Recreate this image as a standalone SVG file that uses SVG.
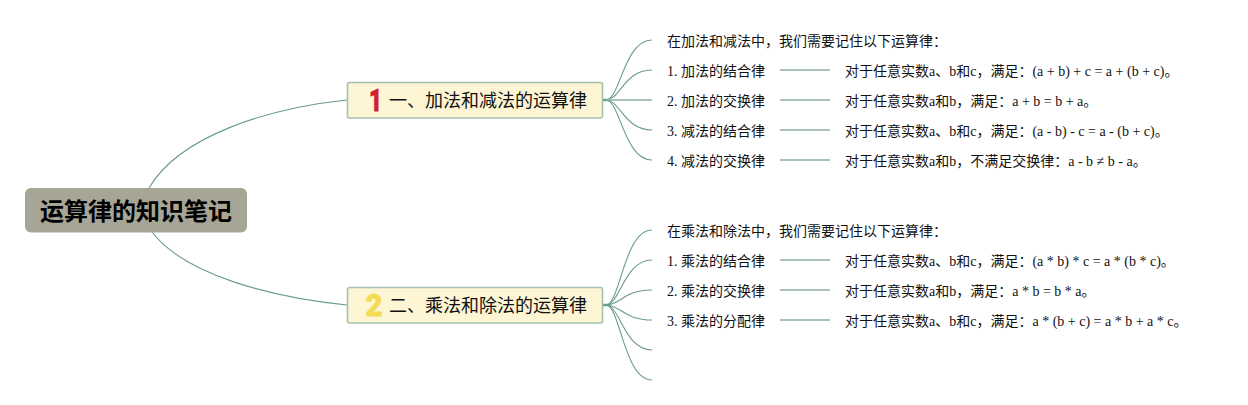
<svg xmlns="http://www.w3.org/2000/svg" width="1248" height="405" viewBox="0 0 1248 405">
<style>
text{font-family:"Liberation Serif","Noto Sans CJK SC",serif;fill:#111;white-space:pre}
.leaf{font-size:14px}
.branch{font-size:18px}
.root{font-size:24px;font-weight:700;font-family:"Noto Sans CJK SC",sans-serif;fill:#000}
.box{fill:#fdf5d3;stroke:#a3c2b0;stroke-width:1.6}
.c{fill:none;stroke:#6a9c8b;stroke-width:1.1}
.l{fill:none;stroke:#a8c4b8;stroke-width:2}
.hub{fill:none;stroke:#6a9c8b;stroke-width:2.5}
.ic{font-family:Roboto,sans-serif;font-weight:900;font-size:32px;stroke-width:.8;stroke-linejoin:round}
</style>
<rect width="1248" height="405" fill="#fff"/>
<g id="connectors">
<path class="c" d="M149 188C180 135 270 108 347 100"/>
<path class="c" d="M152 232C185 275 270 297 347 305"/>
<path class="hub" d="M602 100H610"/>
<path class="hub" d="M602 305H610"/>
<path class="c" d="M606 100C620 100 624 40 652 40"/>
<path class="c" d="M606 100C620 100 624 70 652 70"/>
<path class="l" d="M606 100H652"/>
<path class="c" d="M606 100C620 100 624 130 652 130"/>
<path class="c" d="M606 100C620 100 624 160 652 160"/>
<path class="c" d="M606 305C620 305 624 230 652 230"/>
<path class="c" d="M606 305C620 305 624 260 652 260"/>
<path class="c" d="M606 305C620 305 624 290 652 290"/>
<path class="c" d="M606 305C620 305 624 320 652 320"/>
<path class="c" d="M606 305C620 305 624 350 652 350"/>
<path class="c" d="M606 305C620 305 624 380 652 380"/>
<path class="l" d="M780 70H830M780 100H830M780 130H830M780 160H830M780 260H830M780 290H830M780 320H830"/>
</g>
<g id="root"><rect x="25" y="188" width="222" height="44.5" rx="6" fill="#a6a596"/><text class="root" x="40" y="220">运算律的知识笔记</text></g>
<g id="branch1"><rect class="box" x="347.5" y="82.5" width="255" height="35.5" rx="2"/><text class="ic" x="369" y="111" textLength="13" lengthAdjust="spacingAndGlyphs" stroke="#d2202f" style="fill:#d2202f">1</text><text class="branch" x="389" y="107">一、加法和减法的运算律</text></g>
<g id="branch2"><rect class="box" x="347.5" y="287.5" width="255" height="35.5" rx="2"/><text class="ic" x="365.5" y="316" textLength="17" lengthAdjust="spacingAndGlyphs" stroke="#f3dd57" style="fill:#f3dd57">2</text><text class="branch" x="389" y="312">二、乘法和除法的运算律</text></g>
<g id="leaves">
<text class="leaf" x="667" y="46">在加法和减法中，我们需要记住以下运算律：</text>
<text class="leaf" x="667" y="76">1. 加法的结合律</text>
<text class="leaf" x="667" y="106">2. 加法的交换律</text>
<text class="leaf" x="667" y="136">3. 减法的结合律</text>
<text class="leaf" x="667" y="166">4. 减法的交换律</text>
<text class="leaf" x="845" y="76">对于任意实数a、b和c，满足：(a + b) + c = a + (b + c)。</text>
<text class="leaf" x="845" y="106">对于任意实数a和b，满足：a + b = b + a。</text>
<text class="leaf" x="845" y="136">对于任意实数a、b和c，满足：(a - b) - c = a - (b + c)。</text>
<text class="leaf" x="845" y="166">对于任意实数a和b，不满足交换律：a - b ≠ b - a。</text>
<text class="leaf" x="667" y="236">在乘法和除法中，我们需要记住以下运算律：</text>
<text class="leaf" x="667" y="266">1. 乘法的结合律</text>
<text class="leaf" x="667" y="296">2. 乘法的交换律</text>
<text class="leaf" x="667" y="326">3. 乘法的分配律</text>
<text class="leaf" x="845" y="266">对于任意实数a、b和c，满足：(a * b) * c = a * (b * c)。</text>
<text class="leaf" x="845" y="296">对于任意实数a和b，满足：a * b = b * a。</text>
<text class="leaf" x="845" y="326">对于任意实数a、b和c，满足：a * (b + c) = a * b + a * c。</text>
</g>
</svg>
